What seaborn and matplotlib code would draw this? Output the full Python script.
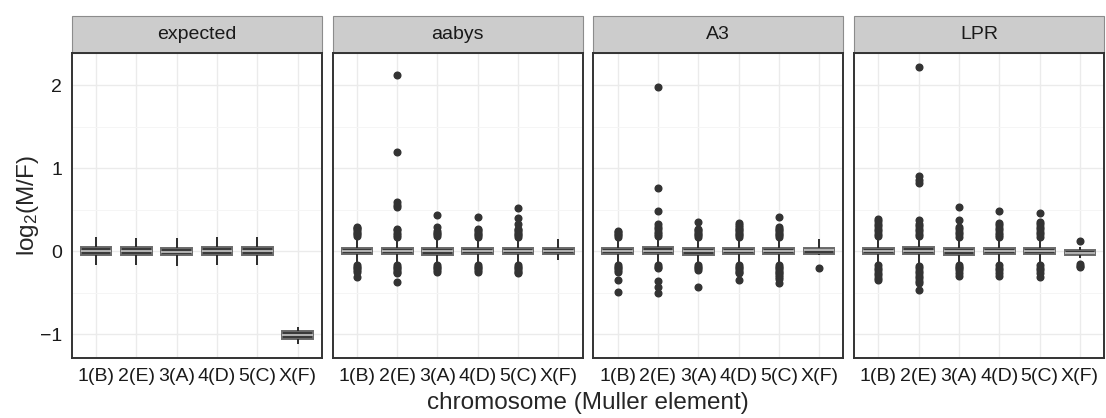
import matplotlib
matplotlib.use("Agg")
import matplotlib.pyplot as plt
from matplotlib.patches import Rectangle
from matplotlib.ticker import MultipleLocator
import pandas as pd
import seaborn as sns

# ---------------- data ----------------
chromosomes = ["1(B)", "2(E)", "3(A)", "4(D)", "5(C)", "X(F)"]
panels = ["expected", "aabys", "A3", "LPR"]

# five-number summaries per chromosome: [lower whisker, Q1, median, Q3, upper whisker]
expected_box = [[-0.17, -0.045, 0.0, 0.045, 0.17],
                [-0.165, -0.045, 0.0, 0.045, 0.16],
                [-0.18, -0.05, -0.01, 0.04, 0.16],
                [-0.165, -0.045, 0.0, 0.045, 0.165],
                [-0.17, -0.045, 0.0, 0.045, 0.17],
                [-1.12, -1.055, -1.01, -0.965, -0.91]]
expected_out = [[], [], [], [], [], []]

aabys_box = [[-0.15, -0.04, 0.0, 0.04, 0.14],
             [-0.15, -0.04, 0.0, 0.04, 0.15],
             [-0.15, -0.045, -0.005, 0.035, 0.14],
             [-0.15, -0.04, 0.0, 0.04, 0.14],
             [-0.15, -0.04, 0.0, 0.04, 0.15],
             [-0.11, -0.04, 0.0, 0.04, 0.145]]
aabys_out = [[0.18, 0.2, 0.22, 0.24, 0.26, 0.28, 0.29, -0.17, -0.19, -0.21, -0.23, -0.25, -0.31],
             [2.12, 1.19, 0.59, 0.56, 0.53, 0.27, 0.25, 0.22, 0.19, 0.17,
              -0.17, -0.19, -0.21, -0.23, -0.25, -0.27, -0.37],
             [0.43, 0.29, 0.24, 0.22, 0.2, 0.18, -0.17, -0.19, -0.21, -0.23, -0.25],
             [0.41, 0.27, 0.25, 0.23, 0.21, 0.19, 0.17, -0.17, -0.19, -0.21, -0.23, -0.25],
             [0.52, 0.40, 0.32, 0.27, 0.25, 0.23, 0.21, 0.19, 0.17,
              -0.17, -0.19, -0.21, -0.23, -0.25, -0.27],
             []]

a3_box = [[-0.13, -0.04, 0.0, 0.04, 0.12],
          [-0.14, -0.04, 0.005, 0.045, 0.15],
          [-0.13, -0.045, -0.005, 0.035, 0.13],
          [-0.13, -0.04, 0.0, 0.04, 0.13],
          [-0.13, -0.04, 0.0, 0.04, 0.13],
          [-0.05, -0.04, 0.01, 0.04, 0.14]]
a3_out = [[0.17, 0.19, 0.21, 0.23, 0.24, -0.17, -0.19, -0.21, -0.23, -0.25, -0.35, -0.49],
          [1.98, 0.76, 0.48, 0.32, 0.29, 0.26, 0.23, 0.2, 0.18,
           -0.17, -0.19, -0.21, -0.36, -0.43, -0.5],
          [0.35, 0.27, 0.25, 0.23, 0.21, 0.19, 0.17, -0.17, -0.19, -0.21, -0.23, -0.43],
          [0.34, 0.31, 0.29, 0.27, 0.25, 0.23, 0.21, 0.19, 0.17,
           -0.17, -0.19, -0.21, -0.23, -0.25, -0.27, -0.35],
          [0.41, 0.29, 0.27, 0.25, 0.23, 0.21, 0.19, 0.17,
           -0.17, -0.19, -0.21, -0.23, -0.25, -0.27, -0.29, -0.31, -0.34, -0.38],
          [-0.2]]

lpr_box = [[-0.14, -0.04, 0.0, 0.04, 0.14],
           [-0.15, -0.04, 0.0, 0.045, 0.15],
           [-0.14, -0.045, -0.005, 0.035, 0.14],
           [-0.14, -0.04, 0.0, 0.04, 0.14],
           [-0.14, -0.04, 0.0, 0.04, 0.14],
           [-0.09, -0.05, -0.02, 0.01, 0.05]]
lpr_out = [[0.38, 0.36, 0.33, 0.3, 0.27, 0.24, 0.21, 0.18,
            -0.17, -0.2, -0.23, -0.26, -0.29, -0.32, -0.35],
           [2.22, 0.9, 0.86, 0.82, 0.37, 0.33, 0.3, 0.27, 0.24, 0.21, 0.18,
            -0.18, -0.21, -0.24, -0.27, -0.3, -0.33, -0.36, -0.39, -0.47],
           [0.53, 0.37, 0.29, 0.26, 0.23, 0.2, 0.17, -0.17, -0.19, -0.21, -0.23, -0.26, -0.3],
           [0.48, 0.34, 0.31, 0.28, 0.25, 0.22, 0.19, 0.17, -0.17, -0.2, -0.23, -0.26, -0.3],
           [0.46, 0.35, 0.32, 0.29, 0.26, 0.23, 0.2, 0.17, -0.17, -0.2, -0.23, -0.26, -0.31],
           [0.115, -0.16, -0.18, -0.19]]

panel_boxes = [expected_box, aabys_box, a3_box, lpr_box]
panel_outliers = [expected_out, aabys_out, a3_out, lpr_out]


def build_sample(stats, outliers, n=200):
    """Rebuild a sample whose boxplot statistics equal the given summary."""
    lo, q1, med, q3, hi = stats
    return [lo] + [q1] * n + [med] * n + [q3] * n + [hi] + list(outliers)


# ---------------- style ----------------
sns.set_theme(style="white")
plt.rcParams["font.family"] = ["Liberation Sans", "DejaVu Sans"]
plt.rcParams["mathtext.fontset"] = "custom"
plt.rcParams["mathtext.rm"] = "Liberation Sans"
plt.rcParams["mathtext.it"] = "Liberation Sans:italic"
plt.rcParams["mathtext.default"] = "regular"

W, H = 1106, 418
fig = plt.figure(figsize=(W / 100, H / 100), dpi=100)
axes = fig.subplots(1, 4, sharey=True)
fig.subplots_adjust(left=72 / W, right=1104 / W, top=1 - 53 / H, bottom=1 - 358 / H,
                    wspace=11 / 250)

dark = "#333333"
for i, ax in enumerate(axes):
    rows = []
    for c, stats, outs in zip(chromosomes, panel_boxes[i], panel_outliers[i]):
        for v in build_sample(stats, outs):
            rows.append((c, v))
    df = pd.DataFrame(rows, columns=["chromosome", "value"])
    sns.boxplot(data=df, x="chromosome", y="value", order=chromosomes, ax=ax,
                color="#3a3a3a", saturation=1, linecolor="#2b2b2b", linewidth=1.4,
                width=0.76, whis=1.5, showcaps=False,
                flierprops=dict(marker="o", markersize=4.8, markerfacecolor=dark,
                                markeredgecolor=dark),
                medianprops=dict(color="#c8c8c8", linewidth=1.2),
                boxprops=dict(edgecolor="#6a6a6a"))
    ax.set_xlim(-0.6, 5.6)
    ax.set_ylim(-1.289, 2.386)
    ax.set_yticks([-1, 0, 1, 2])
    ax.yaxis.set_minor_locator(MultipleLocator(0.5))
    ax.set_axisbelow(True)
    ax.grid(True, which="major", color="#EBEBEB", linewidth=1.0)
    ax.grid(True, which="minor", axis="y", color="#F5F5F5", linewidth=0.7)
    ax.tick_params(which="minor", length=0)
    ax.tick_params(axis="both", which="major", length=4, width=1, color=dark,
                   labelsize=14, labelcolor="#1a1a1a", pad=3)
    if i > 0:
        ax.tick_params(axis="y", which="major", length=0)
    ax.set_xlabel("")
    ax.set_ylabel("")
    for sp in ax.spines.values():
        sp.set_visible(True)
        sp.set_color(dark)
        sp.set_linewidth(1.4)
        sp.set_zorder(5)
    # facet strip
    strip_h = 37 / 305
    ax.add_patch(Rectangle((0, 1), 1, strip_h, transform=ax.transAxes, clip_on=False,
                           facecolor="#CCCCCC", edgecolor="#8c8c8c", linewidth=0.8,
                           zorder=3))
    ax.text(0.5, 1 + strip_h / 2, panels[i], transform=ax.transAxes, ha="center",
            va="center", fontsize=14, color="#1a1a1a")

fig.text((72 + 1104) / 2 / W, 1 - 403 / H, "chromosome (Muller element)",
         ha="center", va="center", fontsize=17.5)
fig.text(28 / W, 1 - 205 / H, "log$_2$(M/F)", ha="center", va="center",
         rotation=90, fontsize=17.5)

fig.savefig("out.png", dpi=100)
